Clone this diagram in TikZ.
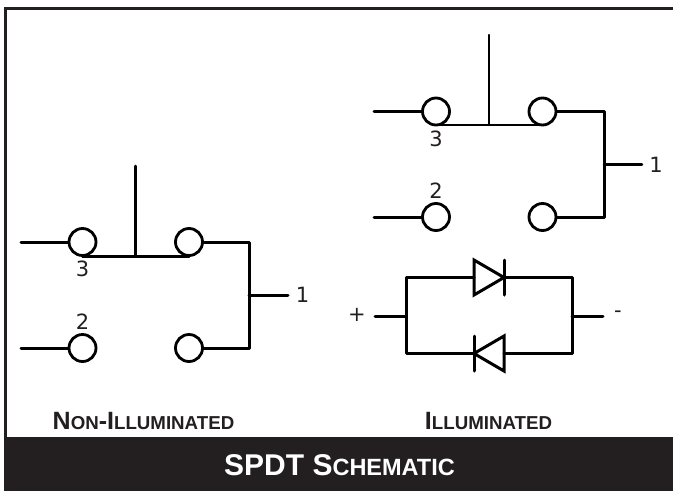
\documentclass[tikz,border=0pt]{standalone}
\usepackage{fontspec}
\setmainfont{DejaVu Sans}
\newfontfamily\capsfont{Liberation Sans}[Scale=1]
\definecolor{band}{HTML}{231F20}
\tikzset{x=1pt,y=-1pt,
  wire/.style={line width=3pt,draw=black,line cap=round,line join=round},
  thinwire/.style={line width=2.5pt,draw=black,line cap=round},
  term/.style={circle,draw=black,fill=white,line width=2.8pt,minimum size=27pt,inner sep=0pt},
  pin/.style={font=\fontsize{21}{21}\selectfont,text=band,inner sep=0pt},
  tag/.style={font=\capsfont\bfseries,text=band,inner sep=0pt},
  diodehead/.style={wire,line join=miter}}
\newcommand{\lbl}[2]{{\fontsize{25}{25}\selectfont #1}{\fontsize{18.7}{18.7}\selectfont #2}}
\newcommand{\ttl}[2]{{\fontsize{30}{30}\selectfont #1}{\fontsize{23.5}{23.5}\selectfont #2}}
\begin{document}
\begin{tikzpicture}
\useasboundingbox (0,0) rectangle (673,491);
\fill[white] (0,0) rectangle (673,491);
\draw[band,line width=2.6pt] (673,8.3) -- (5.5,8.3) -- (5.5,437);
\fill[band] (4,436.5) rectangle (673,491);
\node[font=\capsfont\bfseries,text=white,inner sep=0pt] (title) at (339.5,465) {\ttl{SPDT S}{CHEMATIC}};
\node[tag] (lnon) at (143.5,421) {\lbl{N}{ON}\lbl{-I}{LLUMINATED}};
\node[tag] (lill) at (488.5,421) {\lbl{I}{LLUMINATED}};
% left switch
\coordinate (al) at (21,242); \coordinate (bl) at (21,348);
\coordinate (pl) at (135,166); \coordinate (ql) at (135,256);
\coordinate (ra) at (82.5,256); \coordinate (rb) at (189,256);
\coordinate (ca) at (249,242); \coordinate (cb) at (249,348);
\coordinate (cm) at (249,295.5); \coordinate (ce) at (288,295.5);
\draw[wire] (al) -- (82,242);
\draw[wire] (bl) -- (82,348);
\draw[wire] (ra) -- (rb);
\draw[wire] (pl) -- (ql);
\draw[wire] (189,242) -- (ca) -- (cb) -- (189,348);
\draw[wire] (cm) -- (ce);
\node[term] (t1) at (82.5,242) {};
\node[term] (t2) at (189,242) {};
\node[term] (t3) at (82.5,348) {};
\node[term] (t4) at (189,348) {};
\draw[wire] (ra) -- (rb);
\node[pin] (n3) at (82.5,269) {3};
\node[pin] (n2) at (82.5,322) {2};
\node[pin] (n1) at (302.5,295) {1};
% right switch
\coordinate (al2) at (374,111.5); \coordinate (bl2) at (374,217);
\coordinate (pr) at (489,35); \coordinate (qr) at (489,125);
\coordinate (ra2) at (436,125); \coordinate (rb2) at (542.5,125);
\coordinate (ca2) at (604,111.5); \coordinate (cb2) at (604,217);
\coordinate (cm2) at (604,164.5); \coordinate (ce2) at (642,164.5);
\draw[wire] (al2) -- (436,111.5);
\draw[wire] (bl2) -- (436,217);
\draw[thinwire] (pr) -- (qr);
\draw[wire] (542.5,111.5) -- (ca2) -- (cb2) -- (542.5,217);
\draw[thinwire] (cm2) -- (ce2);
\node[term] (u1) at (436,111.5) {};
\node[term] (u2) at (542.5,111.5) {};
\node[term] (u3) at (436,217) {};
\node[term] (u4) at (542.5,217) {};
\draw[thinwire] (ra2) -- (rb2);
\node[pin] (m3) at (436,139) {3};
\node[pin] (m2) at (436,191) {2};
\node[pin] (m1) at (656,165) {1};
% diodes
\coordinate (dl) at (406,316); \coordinate (dr) at (572,316);
\coordinate (el) at (375,316); \coordinate (er) at (603,316);
\draw[wire] (474,277.5) -| (dl) |- (474,353.5);
\draw[wire] (504,277.5) -| (dr) |- (504,353.5);
\draw[wire] (el) -- (dl);
\draw[wire] (dr) -- (er);
\draw[diodehead] (474,260) -- (504,277.5) -- (474,295) -- cycle;
\draw[wire] (504,260) -- (504,295);
\draw[diodehead] (504,336) -- (474,353.5) -- (504,371) -- cycle;
\draw[wire] (474,336) -- (474,371);
\node[pin] (plus) at (357,315) {+};
\node[pin] (minus) at (618,314) {-};
\end{tikzpicture}
\end{document}
